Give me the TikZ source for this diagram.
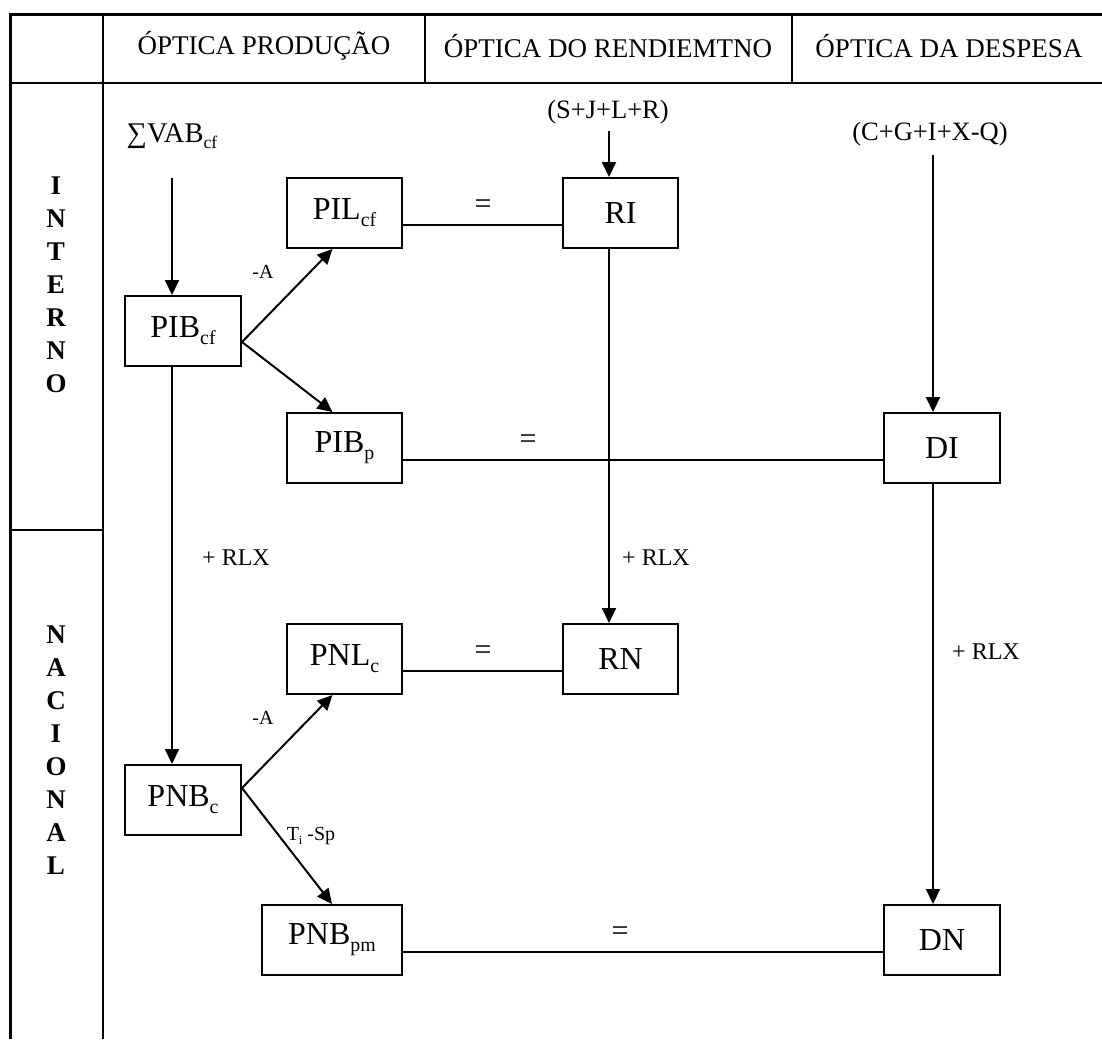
\documentclass[tikz,border=0pt]{standalone}
\usepackage{fontspec}
\setmainfont{Liberation Serif}
\usetikzlibrary{arrows.meta}
\newcommand\lo[1]{\raisebox{-0.22em}{\scalebox{0.62}{#1}}}
\begin{document}
\begin{tikzpicture}[x=1pt,y=-1pt,
  box/.style={draw,line width=2pt,minimum width=115pt,minimum height=70pt,inner sep=0pt,font=\fontsize{32}{36}\selectfont},
  conn/.style={line width=2pt},
  arr/.style={line width=2pt,-{Triangle[length=15pt,width=14pt]}},
  head/.style={font=\fontsize{27}{30}\selectfont},
  lbl/.style={font=\fontsize{24}{28}\selectfont},
  small/.style={font=\fontsize{20}{24}\selectfont},
  src/.style={font=\fontsize{26.5}{30}\selectfont},
  eq/.style={font=\fontsize{30}{34}\selectfont},
  side/.style={font=\fontsize{27}{33}\selectfont\bfseries,align=center}]
\useasboundingbox (0,0) rectangle (1102,1039);
\fill[white] (0,0) rectangle (1102,1039);

% table frame
\draw[line width=3pt] (10,1039) -- (10,14) -- (1102,14);
\draw[line width=2.5pt] (10,83) -- (1102,83);
\draw[line width=2.5pt] (103,14) -- (103,1039);
\draw[line width=1.8pt] (425,14) -- (425,83);
\draw[line width=1.8pt] (792,14) -- (792,83);
\draw[line width=2pt] (10,530) -- (103,530);

% column headings
\node[head] (h1) at (264,46) {ÓPTICA PRODUÇÃO};
\node[head] (h2) at (608,46) {ÓPTICA DO RENDIEMTNO};
\node[head] (h3) at (949,46) {ÓPTICA DA DESPESA};

% row headings
\node[side] (interno) at (56,285) {I\\N\\T\\E\\R\\N\\O};
\node[side] (nacional) at (56,750) {N\\A\\C\\I\\O\\N\\A\\L};

% sources
\node[font=\fontsize{28.5}{32}\selectfont] (vab) at (172,136) {∑VAB\lo{cf}};
\node[src] (sjlr) at (608,112) {(S+J+L+R)};
\node[src] (cgixq) at (930,134) {(C+G+I+X-Q)};
\coordinate (vabEnd) at (172,178);
\coordinate (sjlrEnd) at (609,131);
\coordinate (cgixqEnd) at (933,155);

% aggregates
\node[box] (PILcf) at (344.5,213) {PIL\lo{cf}};
\node[box] (RI) at (620.5,213) {RI};
\node[box,minimum width=116pt] (PIBcf) at (183,331) {PIB\lo{cf}};
\node[box] (PIBp) at (344.5,448) {PIB\lo{p}};
\node[box,minimum width=116pt] (DI) at (942,448) {DI};
\node[box] (PNLc) at (344.5,659) {PNL\lo{c}};
\node[box] (RN) at (620.5,659) {RN};
\node[box,minimum width=116pt] (PNBc) at (183,800) {PNB\lo{c}};
\node[box,minimum width=140pt] (PNBpm) at (332,940) {PNB\lo{pm}};
\node[box,minimum width=116pt] (DN) at (942,940) {DN};

% vertical flows
\draw[arr] (vabEnd) -- ([xshift=-11pt]PIBcf.north);
\draw[arr] (sjlrEnd) -- ([xshift=-11.5pt]RI.north);
\draw[arr] (cgixqEnd) -- ([xshift=-9pt]DI.north);
\draw[arr] ([xshift=-11pt]PIBcf.south) -- ([xshift=-11pt]PNBc.north);
\draw[arr] ([xshift=-11.5pt]RI.south) -- ([xshift=-11.5pt]RN.north);
\draw[arr] ([xshift=-9pt]DI.south) -- ([xshift=-9pt]DN.north);

% branches
\draw[arr] ([yshift=-11pt]PIBcf.east) -- ([xshift=-12pt]PILcf.south);
\draw[arr] ([yshift=-11pt]PIBcf.east) -- ([xshift=-12pt]PIBp.north);
\draw[arr] ([yshift=12pt]PNBc.east) -- ([xshift=-12pt]PNLc.south);
\draw[arr] ([yshift=12pt]PNBc.east) -- (PNBpm.north);

% equalities
\draw[conn] ([yshift=-12pt]PILcf.east) -- ([yshift=-12pt]RI.west);
\draw[conn] ([yshift=-12pt]PIBp.east) -- ([yshift=-12pt]DI.west);
\draw[conn] ([yshift=-12pt]PNLc.east) -- ([yshift=-12pt]RN.west);
\draw[conn] ([yshift=-12pt]PNBpm.east) -- ([yshift=-12pt]DN.west);
\node[eq] (e1) at (483,207) {=};
\node[eq] (e2) at (528,442) {=};
\node[eq] (e3) at (483,653) {=};
\node[eq] (e4) at (620,934) {=};

% labels
\node[small] (a1) at (263,272) {-A};
\node[small] (a2) at (263,718) {-A};
\node[small] (tsp) at (311,836) {T\lo{i} -Sp};
\node[lbl] (r1) at (236,558) {+ RLX};
\node[lbl] (r2) at (656,558) {+ RLX};
\node[lbl] (r3) at (986,652) {+ RLX};
\end{tikzpicture}
\end{document}
